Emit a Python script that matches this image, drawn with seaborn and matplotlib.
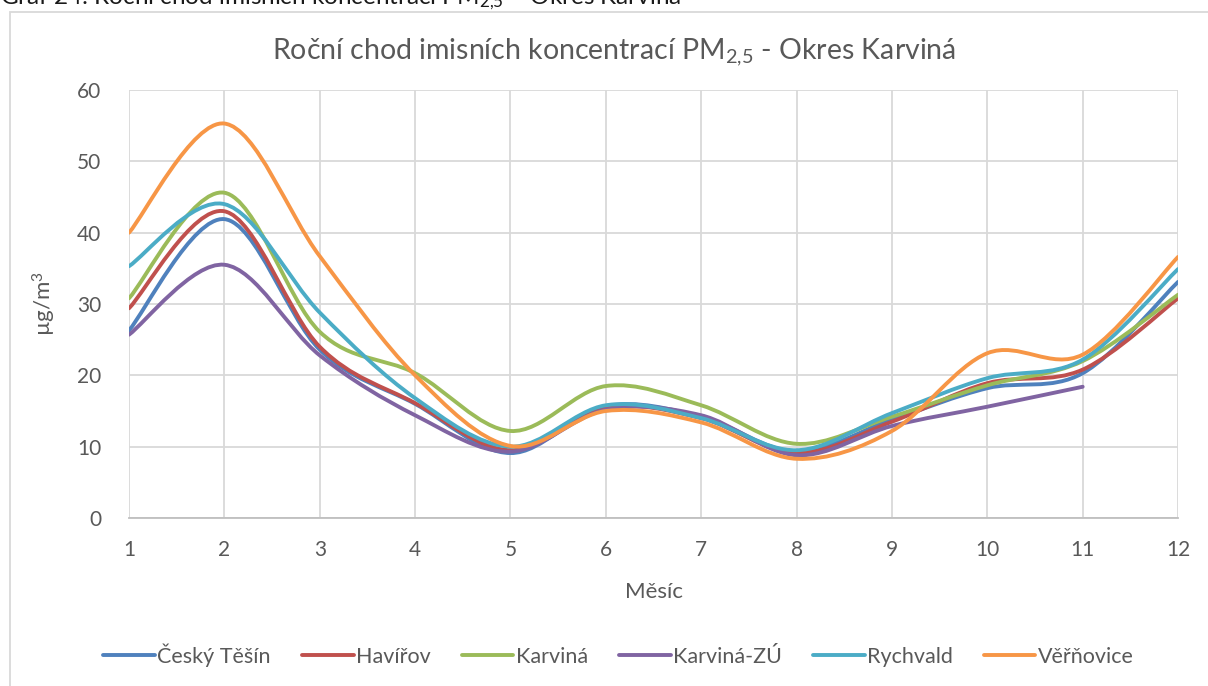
import numpy as np
import pandas as pd
import seaborn as sns
import matplotlib.pyplot as plt
from matplotlib.path import Path
from matplotlib.patches import PathPatch, Rectangle
from matplotlib.lines import Line2D

# data (monthly means, ug/m3)
months = list(range(1, 13))
cesky_tesin = [26.3, 41.9, 23.6, 16.0, 9.1, 15.7, 14.2, 9.3, 13.8, 18.2, 20.3, 33.1]
havirov = [29.4, 43.0, 24.0, 16.1, 9.5, 15.5, 14.0, 9.1, 13.5, 18.9, 20.8, 30.8]
karvina = [30.8, 45.6, 26.1, 20.3, 12.2, 18.5, 15.8, 10.4, 14.2, 18.6, 22.0, 31.3]
karvina_zu = [25.7, 35.5, 22.8, 14.4, 9.3, 15.2, 14.4, 8.8, 12.9, 15.6, 18.4, np.nan]
rychvald = [35.3, 44.0, 28.8, 16.8, 10.0, 15.8, 14.0, 9.5, 14.7, 19.6, 22.2, 34.9]
vernovice = [40.0, 55.3, 36.7, 20.0, 10.1, 15.0, 13.4, 8.3, 12.2, 23.1, 22.9, 36.6]

stations = ['Český Těšín', 'Havířov', 'Karviná', 'Karviná-ZÚ', 'Rychvald', 'Věřňovice']
series = [cesky_tesin, havirov, karvina, karvina_zu, rychvald, vernovice]
colors = ['#4F81BD', '#C0504D', '#9BBB59', '#8064A2', '#4BACC6', '#F79646']

df = pd.DataFrame({'Měsíc': months})
for name, vals in zip(stations, series):
    df[name] = vals
long_df = df.melt(id_vars='Měsíc', var_name='Stanice', value_name='PM25')

sns.set_theme(style='whitegrid')
plt.rcParams['font.family'] = ['Lato', 'DejaVu Sans']
plt.rcParams['mathtext.fontset'] = 'custom'
plt.rcParams['mathtext.rm'] = 'Lato'
plt.rcParams['mathtext.default'] = 'regular'

fig = plt.figure(figsize=(12.08, 6.86), dpi=100)
ax = fig.add_axes([0.1068, 0.2449, 0.8684, 0.6239])

# invisible seaborn lines set up the axes, smooth curves are drawn below
sns.lineplot(data=long_df, x='Měsíc', y='PM25', hue='Stanice', palette=colors,
             linewidth=0, legend=False, ax=ax)


def smooth_path(x, y):
    # Excel-like smoothed line: cubic bezier through the points
    pts = [(a, b) for a, b in zip(x, y) if not np.isnan(b)]
    pts = np.array(pts, dtype=float)
    verts = [tuple(pts[0])]
    codes = [Path.MOVETO]
    n = len(pts)
    for i in range(n - 1):
        p0 = pts[i - 1] if i > 0 else pts[i]
        p1 = pts[i]
        p2 = pts[i + 1]
        p3 = pts[i + 2] if i + 2 < n else pts[i + 1]
        c1 = p1 + (p2 - p0) / 6.0
        c2 = p2 - (p3 - p1) / 6.0
        verts += [tuple(c1), tuple(c2), tuple(p2)]
        codes += [Path.CURVE4] * 3
    return Path(verts, codes)


for name, col in zip(stations, colors):
    path = smooth_path(df['Měsíc'].values, df[name].values)
    ax.add_patch(PathPatch(path, facecolor='none', edgecolor=col, lw=2.8,
                           capstyle='round', joinstyle='round', zorder=3))

ax.set_xlim(1, 12)
ax.set_ylim(0, 60)
ax.set_xticks(months)
ax.set_yticks(range(0, 61, 10))
ax.grid(True, color='#d9d9d9', lw=1.3)
for s in ['top', 'right', 'left']:
    ax.spines[s].set_visible(False)
ax.spines['bottom'].set_color('#bfbfbf')
ax.spines['bottom'].set_linewidth(1.3)
ax.tick_params(axis='both', length=0, labelsize=15, labelcolor='#595959')
ax.tick_params(axis='x', pad=16)
ax.tick_params(axis='y', pad=20)
ax.set_xlabel('Měsíc', fontsize=16, color='#595959', labelpad=16)
ax.set_ylabel('µg/m$^3$', fontsize=16, color='#595959', labelpad=14)

fig.text(0.508, 0.924, 'Roční chod imisních koncentrací PM$_{2{,}5}$ - Okres Karviná',
         ha='center', va='center', fontsize=20.5, color='#595959')

handles = [Line2D([0], [0], color=c, lw=2.8) for c in colors]
fig.legend(handles, stations, loc='center', bbox_to_anchor=(0.512, 0.045), ncol=6,
           frameon=False, fontsize=15.5, handlelength=2.4, handletextpad=0.1,
           columnspacing=1.45, labelcolor='#595959')

# chart border and cut-off caption above it
fig.add_artist(Rectangle((0.0083, -0.01), 1.0, 0.9925, transform=fig.transFigure,
                         fill=False, edgecolor='#d9d9d9', lw=1.3))
fig.text(0.0, 0.9935, 'Graf 24: Roční chod imisních koncentrací PM$_{2{,}5}$ – Okres Karviná',
         ha='left', va='baseline', fontsize=17.5, color='#1a1a1a')

fig.savefig('out.png', dpi=100)
